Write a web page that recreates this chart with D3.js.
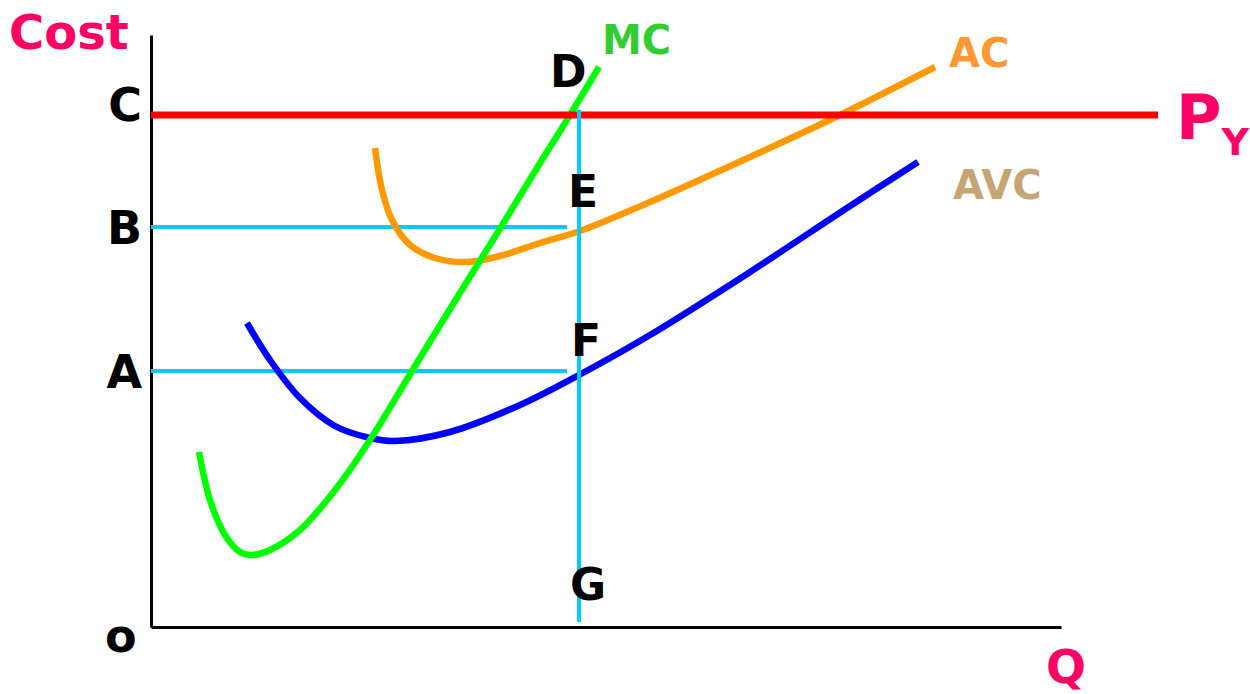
<!DOCTYPE html>
<html><head><meta charset="utf-8">
<script src="https://cdn.jsdelivr.net/npm/d3@7"></script>
<style>html,body{margin:0;padding:0;background:#fff}svg{display:block}text{font-family:"DejaVu Sans",Verdana,sans-serif;font-weight:bold}</style>
</head><body><svg id="c" width="1250" height="694"></svg>
<script>
// Data (Q units, Cost units)
const mcQ = [48, 59, 74, 89, 101, 119, 149, 184, 219, 261, 307, 350, 389, 419, 448];
const mcC = [175, 127, 92, 75, 72, 77, 97, 137, 187, 256, 331, 400, 464, 512, 560];
const acQ = [224, 231, 241, 259, 284, 314, 349, 389, 429, 499, 599, 689, 784];
const acC = [479, 437, 407, 382, 369, 365, 371, 384, 396, 425, 470, 512, 560];
const avcQ = [96, 119, 149, 184, 219, 244, 299, 369, 428, 499, 599, 699, 767];
const avcC = [304, 267, 229, 201, 189, 186, 195, 222, 252, 292, 355, 421, 465];
const priceC = 512, priceQmax = 1007;
const qStar = 428;
const levelNames = ["C", "B", "A"];
const levelValues = [512, 400, 256];
const hLineQmax = 416;

const svg = d3.select("#c");
const x = d3.scaleLinear().domain([0, 910]).range([151, 1061]);
const y = d3.scaleLinear().domain([0, 592]).range([627, 35]);

// axes
const gx = svg.append("g").attr("transform", `translate(0,${y(0)})`)
  .call(d3.axisBottom(x).tickValues([]).tickSizeOuter(0));
const gy = svg.append("g").attr("transform", `translate(${x(0)},0)`)
  .call(d3.axisLeft(y).tickValues([]).tickSizeOuter(0));
[gx, gy].forEach(g => g.select(".domain").attr("stroke", "#000").attr("stroke-width", 3));

const line = d3.line().x(d => x(d[0])).y(d => y(d[1])).curve(d3.curveCatmullRom.alpha(0.5));
const zip = (a, b) => a.map((v, i) => [v, b[i]]);

// cyan guide lines
[1, 2].forEach(i => {
  svg.append("line").attr("x1", x(0)).attr("x2", x(hLineQmax)).attr("y1", y(levelValues[i])).attr("y2", y(levelValues[i]))
    .attr("stroke", "#00ccff").attr("stroke-width", 4);
});

// curves
svg.append("path").attr("d", line(zip(acQ, acC))).attr("fill", "none").attr("stroke", "#ff9900").attr("stroke-width", 6.5);
svg.append("path").attr("d", line(zip(avcQ, avcC))).attr("fill", "none").attr("stroke", "#0000ff").attr("stroke-width", 6.5);
svg.append("path").attr("d", line(zip(mcQ, mcC))).attr("fill", "none").attr("stroke", "#00ff00").attr("stroke-width", 6.5);

// price line
svg.append("line").attr("x1", x(0)).attr("x2", x(priceQmax)).attr("y1", y(priceC)).attr("y2", y(priceC))
  .attr("stroke", "#ff0000").attr("stroke-width", 7);

// vertical cyan
svg.append("line").attr("x1", x(qStar)).attr("x2", x(qStar)).attr("y1", y(517)).attr("y2", y(5))
  .attr("stroke", "#00ccff").attr("stroke-width", 4);

function txt(s, px, py, size, color, anchor) {
  return svg.append("text").attr("x", px).attr("y", py).attr("font-size", size)
    .attr("fill", color).attr("text-anchor", anchor || "start").text(s);
}
// axis titles
txt("Cost", 9, 49, 48, "#ff0066");
txt("Q", 1046, 683, 47, "#ff0066");
const pt = svg.append("text").attr("x", 1176).attr("y", 139).attr("font-size", 62).attr("fill", "#ff0066");
pt.append("tspan").text("P");
pt.append("tspan").attr("dy", 16).attr("font-size", 38).text("Y");
txt("o", 105, 652, 46, "#000");

// level labels
levelNames.forEach((n, i) => {
  const yy = i === 0 ? y(levelValues[i]) + 6 : y(levelValues[i]) + 17;
  txt(n, 142, yy, 46, "#000", "end");
});
// point labels
txt("D", 550, 87, 44, "#000");
txt("E", 568, 207, 44, "#000");
txt("F", 571, 356, 44, "#000");
txt("G", 570, 600, 44, "#000");
// curve labels
txt("MC", 602, 54, 40, "#33cc33");
txt("AC", 949, 67, 40, "#ff9933");
txt("AVC", 953, 199, 40, "#c4a574");
</script></body></html>
